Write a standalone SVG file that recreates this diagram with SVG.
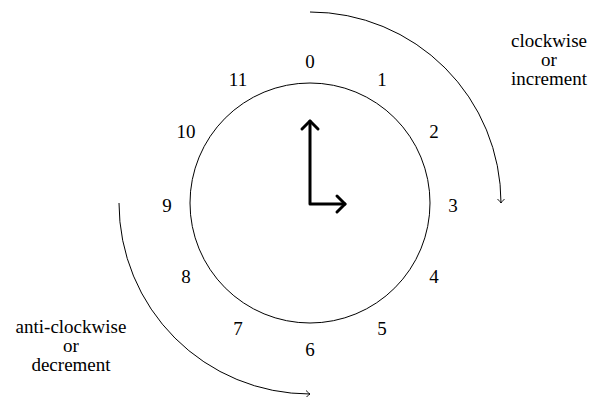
<svg xmlns="http://www.w3.org/2000/svg" width="596" height="397" viewBox="0 0 596 397">
<style>
text{font-family:"Liberation Serif","DejaVu Serif",serif;font-size:19px;fill:#000;text-anchor:middle}
.num{font-size:19px}
.thin{fill:none;stroke:#000;stroke-width:1}
.hand{fill:none;stroke:#000;stroke-width:3;stroke-linecap:round;stroke-linejoin:round}
</style>
<defs>
<marker id="tip" viewBox="-6 -5 8 10" markerWidth="8" markerHeight="10" refX="0" refY="0" orient="auto" markerUnits="userSpaceOnUse">
<path d="M-4,-3.5 Q-1,-0.5 0,0 Q-1,0.5 -4,3.5" fill="none" stroke="#000" stroke-width="0.9"/>
</marker>
</defs>
<rect width="596" height="397" fill="#fff"/>
<g id="clock">
<circle cx="310" cy="203" r="120" class="thin"/>
</g>
<g id="hands">
<path class="hand" d="M310,121 L310,204 L345,204"/>
<path class="hand" d="M302,129 L310,121 L318,129"/>
<path class="hand" d="M337,196 L345,204 L337,212"/>
</g>
<g id="numbers">
<text class="num" x="310" y="68">0</text>
<text class="num" x="382" y="86">1</text>
<text class="num" x="434" y="138">2</text>
<text class="num" x="453" y="212">3</text>
<text class="num" x="434" y="283">4</text>
<text class="num" x="382" y="335">5</text>
<text class="num" x="310" y="356">6</text>
<text class="num" x="238" y="335">7</text>
<text class="num" x="186" y="283">8</text>
<text class="num" x="167" y="212">9</text>
<text class="num" x="186" y="138">10</text>
<text class="num" x="238" y="86">11</text>
</g>
<g id="connectors">
<path class="thin" d="M310,12 A191,191 0 0 1 501,203" marker-end="url(#tip)"/>
<path class="thin" d="M119,203 A191,191 0 0 0 310,394" marker-end="url(#tip)"/>
</g>
<g id="label-clockwise">
<text x="549" y="47">clockwise</text>
<text x="549" y="66">or</text>
<text x="549" y="85">increment</text>
</g>
<g id="label-anticlockwise">
<text x="71" y="333">anti-clockwise</text>
<text x="71" y="352">or</text>
<text x="71" y="371">decrement</text>
</g>
</svg>
